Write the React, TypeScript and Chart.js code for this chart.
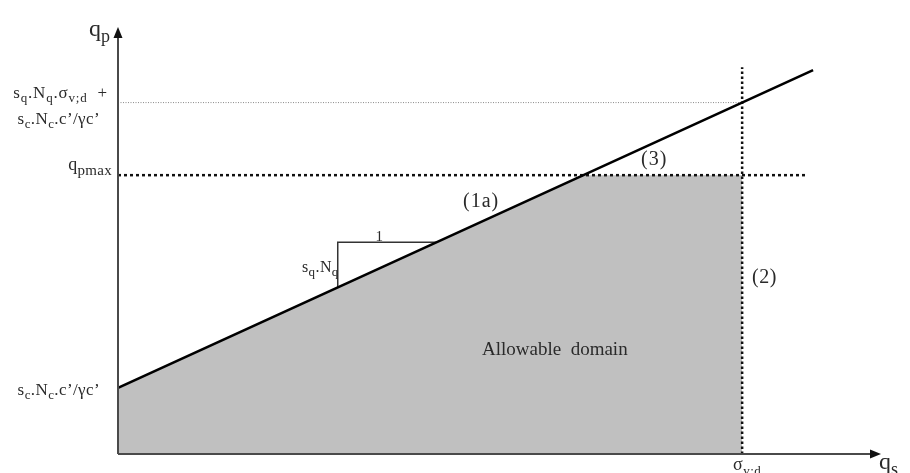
import React, { useEffect, useRef } from "react";
import { Chart, registerables } from "chart.js";

Chart.register(...registerables);

// Bearing resistance qp versus shaft friction qs
const qsLine = [0, 9.11];
const qpLine = [1.55, 8.99];
const domainQs = [0, 6.1, 8.18];
const domainQp = [1.55, 6.53, 6.53];
const qpMaxQs = [0, 9.02];
const qpMaxQp = [6.53, 6.53];
const sigmaQs = [8.18, 8.18];
const sigmaQp = [0, 9.06];
const upperQs = [0, 8.18];
const upperQp = [8.23, 8.23];
const slopeQs = [2.88, 2.88, 4.18];
const slopeQp = [3.9, 4.96, 4.96];

const FONT = '"Liberation Serif", "Times New Roman", serif';
const TEXT = "#2a2a2a";

type Seg = { t: string; sub?: boolean };

function segs(spec: string): Seg[] {
  // "_x_" marks a subscript run
  const out: Seg[] = [];
  spec.split("_").forEach((p, i) => {
    if (p) out.push({ t: p, sub: i % 2 === 1 });
  });
  return out;
}

function richText(
  ctx: CanvasRenderingContext2D,
  spec: string,
  x: number,
  y: number,
  size: number,
  align: "left" | "right" | "center" = "left",
  subSize = Math.round(size * 0.72),
  spacing = 0
) {
  const parts = segs(spec);
  (ctx as any).letterSpacing = `${spacing}px`;
  const widthOf = (s: Seg) => {
    ctx.font = `${s.sub ? subSize : size}px ${FONT}`;
    return ctx.measureText(s.t).width;
  };
  const total = parts.reduce((a, s) => a + widthOf(s), 0);
  let cx = align === "left" ? x : align === "right" ? x - total : x - total / 2;
  ctx.fillStyle = TEXT;
  ctx.textAlign = "left";
  ctx.textBaseline = "alphabetic";
  for (const s of parts) {
    ctx.font = `${s.sub ? subSize : size}px ${FONT}`;
    ctx.fillText(s.t, cx, s.sub ? y + size * 0.25 : y);
    cx += ctx.measureText(s.t).width;
  }
  (ctx as any).letterSpacing = "0px";
}

const pts = (xs: number[], ys: number[]) => xs.map((x, i) => ({ x, y: ys[i] }));

const annotate = {
  id: "annotate",
  afterDatasetsDraw(chart: any) {
    const { ctx } = chart;
    const xs = chart.scales.x;
    const ys = chart.scales.y;
    const x0 = xs.getPixelForValue(0);
    const x1 = xs.getPixelForValue(10);
    const y0 = ys.getPixelForValue(0);
    const y1 = ys.getPixelForValue(10);
    ctx.save();
    // axes with arrowheads
    ctx.strokeStyle = "#4a4a4a";
    ctx.fillStyle = "#111";
    ctx.lineWidth = 2;
    ctx.beginPath();
    ctx.moveTo(x0, y0);
    ctx.lineTo(x1 - 8, y0);
    ctx.moveTo(x0, y0);
    ctx.lineTo(x0, y1 + 8);
    ctx.stroke();
    ctx.beginPath();
    ctx.moveTo(x1, y0);
    ctx.lineTo(x1 - 11, y0 - 4.5);
    ctx.lineTo(x1 - 11, y0 + 4.5);
    ctx.closePath();
    ctx.fill();
    ctx.beginPath();
    ctx.moveTo(x0, y1);
    ctx.lineTo(x0 - 4.5, y1 + 11);
    ctx.lineTo(x0 + 4.5, y1 + 11);
    ctx.closePath();
    ctx.fill();

    // axis titles
    richText(ctx, "q_p_", x0 - 8, y1 + 9, 24, "right", 18);
    richText(ctx, "q_s_", x1 - 2, y0 + 15, 24, "left", 18);

    // left-hand values
    const yUp = ys.getPixelForValue(upperQp[0]);
    richText(ctx, "s_q_.N_q_.σ_v;d_  +", x0 - 10, yUp - 5, 17, "right", 13, 0.8);
    richText(ctx, "s_c_.N_c_.c’/γc’", x0 - 18, yUp + 21, 17, "right", 13, 0.4);
    richText(ctx, "q_pmax_", x0 - 6, ys.getPixelForValue(qpMaxQp[0]) - 5, 18, "right", 15, 0.3);
    richText(ctx, "s_c_.N_c_.c’/γc’", x0 - 18, ys.getPixelForValue(qpLine[0]) + 7, 17, "right", 13, 0.4);
    richText(ctx, "σ_v;d_", xs.getPixelForValue(sigmaQs[0]) + 5, y0 + 16, 18, "center", 13, 0.5);

    // slope triangle labels
    richText(ctx, "1", (xs.getPixelForValue(slopeQs[0]) + xs.getPixelForValue(slopeQs[2])) / 2 - 8, ys.getPixelForValue(slopeQp[1]) - 1, 15, "center");
    richText(ctx, "s_q_.N_q_", xs.getPixelForValue(slopeQs[0]) + 1, ys.getPixelForValue(slopeQp[0]) - 15, 16, "right", 13, 0.4);

    // region labels
    richText(ctx, "(1a)", 463, 207, 20, "left", 14, 1);
    richText(ctx, "(3)", 641, 165, 20, "left", 14, 1);
    richText(ctx, "(2)", 752, 283, 20, "left", 14, 0.5);
    richText(ctx, "Allowable  domain", 482, 355, 19, "left");
    ctx.restore();
  },
};

export default function App() {
  const ref = useRef<HTMLCanvasElement>(null);
  useEffect(() => {
    if (!ref.current) return;
    const chart = new Chart(ref.current, {
      type: "line",
      data: {
        datasets: [
          {
            data: pts(domainQs, domainQp),
            fill: "origin",
            backgroundColor: "#c0c0c0",
            borderWidth: 0,
            pointRadius: 0,
            order: 10,
          },
          {
            data: pts(upperQs, upperQp),
            borderColor: "#8a8a8a",
            borderWidth: 1,
            borderDash: [1, 1.5],
            pointRadius: 0,
            fill: false,
            order: 5,
          },
          {
            data: pts(qpMaxQs, qpMaxQp),
            borderColor: "#111",
            borderWidth: 2.5,
            borderDash: [3, 3],
            pointRadius: 0,
            fill: false,
            order: 4,
          },
          {
            data: pts(sigmaQs, sigmaQp),
            borderColor: "#111",
            borderWidth: 2.5,
            borderDash: [2.5, 2.5],
            pointRadius: 0,
            fill: false,
            order: 4,
          },
          {
            data: pts(slopeQs, slopeQp),
            borderColor: "#333",
            borderWidth: 1.5,
            pointRadius: 0,
            fill: false,
            tension: 0,
            order: 3,
          },
          {
            data: pts(qsLine, qpLine),
            borderColor: "#000",
            borderWidth: 2.6,
            pointRadius: 0,
            fill: false,
            order: 1,
          },
        ],
      },
      options: {
        animation: false,
        responsive: false,
        maintainAspectRatio: false,
        layout: { padding: { left: 118, right: 29, top: 27, bottom: 19 } },
        plugins: { legend: { display: false }, tooltip: { enabled: false } },
        scales: {
          x: { type: "linear", min: 0, max: 10, display: false },
          y: { type: "linear", min: 0, max: 10, display: false },
        },
      },
      plugins: [annotate],
    });
    return () => chart.destroy();
  }, []);
  return (
    <div style={{ position: "fixed", left: 0, top: 0, width: 910, height: 473, background: "#fff" }}>
      <canvas ref={ref} width={910} height={473} style={{ display: "block" }} />
    </div>
  );
}
